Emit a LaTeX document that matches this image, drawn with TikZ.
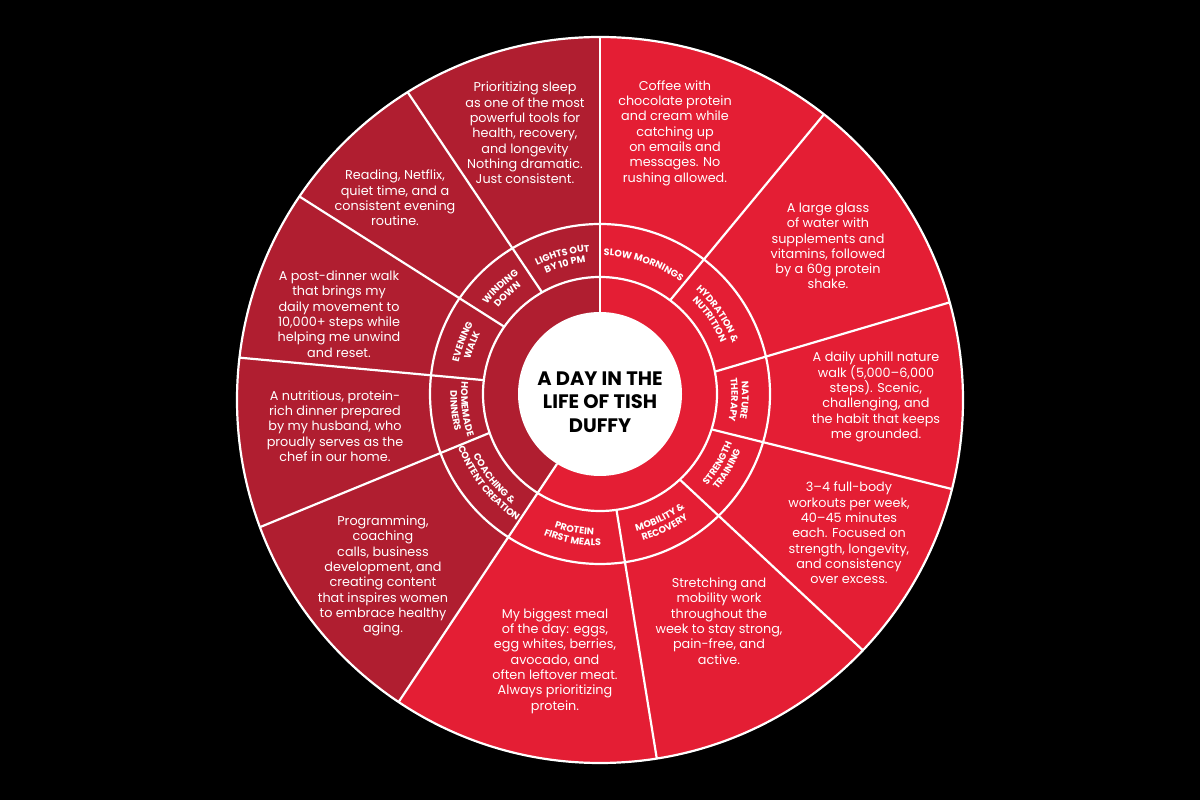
\documentclass[tikz,border=0pt]{standalone}
\usepackage{fontspec}
\setmainfont{Poppins}
\usetikzlibrary{calc,decorations.text}
\definecolor{brightred}{RGB}{228,30,52}
\definecolor{darkred}{RGB}{176,30,48}
\newcommand\labfont{\fontsize{9.5}{10}\selectfont\bfseries}
% label along arc, tops outward (clockwise path)
\newcommand\lblout[3]{%
  \path[decorate,decoration={text along path,text align=center,text={|\labfont\color{white}|#3}}]
    ($(Ci)+({#1+70}:#2)$) arc[start angle={#1+70}, end angle={#1-70}, radius=#2];}
% label along arc, tops inward (counter-clockwise path)
\newcommand\lblin[3]{%
  \path[decorate,decoration={text along path,text align=center,text={|\labfont\color{white}|#3}}]
    ($(Ci)+({#1-70}:#2)$) arc[start angle={#1-70}, end angle={#1+70}, radius=#2];}
\begin{document}
\begin{tikzpicture}[x=1pt,y=1pt,
  wline/.style={draw=white,line width=2.2pt},
  body/.style={text=white,align=center,font=\fontsize{12.8}{15.3}\selectfont}]
\useasboundingbox (0,0) rectangle (1200,800);
\fill[black] (0,0) rectangle (1200,800);
\coordinate (Ci) at (600,406);
\coordinate (Co) at (600,400);
\fill[brightred] (Co) circle[radius=363];
\coordinate (P7) at ($(Ci)+(238.4:82)$);
\coordinate (Q7) at ($(Co)+(236.3:363)$);
\begin{scope}
  \clip (Co) circle[radius=363];
  \fill[darkred] (Ci) -- (600,900) -- (-100,900) -- (-100,-200) -- ($(Q7)!-1!(P7)$) -- (Q7) -- (P7) -- cycle;
\end{scope}
\draw[wline] (Co) circle[radius=363];
\draw[wline] (Ci) circle[radius=170];
\draw[wline] (Ci) circle[radius=117];
\draw[wline] ($(Ci)+(90:82)$) -- ($(Co)+(90:363)$);
\draw[wline] (P7) -- (Q7);
\foreach \ai/\ao in {53.2/51.9, 11/15.6, -17.6/-14.2, -47/-43.6, -81.9/-81, 199.4/200.5, 173.2/173.3, 144.9/145.9, 119.7/122}
  \draw[wline] ($(Ci)+(\ai:117)$) -- ($(Co)+(\ao:363)$);
\fill[white] (Ci) circle[radius=82];

\node[font=\fontsize{19.5}{23.3}\selectfont\bfseries, align=center, text=black] (title) at (600,398) {A DAY IN THE\\LIFE OF TISH\\DUFFY};

% ring labels
\lblout{105.1}{142.8}{LIGHTS OUT}
\lblout{105.1}{132.1}{BY 10 PM}
\lblout{71.4}{138.3}{SLOW MORNINGS}
\lblout{34.3}{142}{HYDRATION {\&}}
\lblout{34.3}{131.3}{NUTRITION}
\lblout{-2.5}{142}{NATURE}
\lblout{-2.5}{131.3}{THERAPY}
\lblin{-30.5}{140.9}{STRENGTH}
\lblin{-30.5}{151.6}{TRAINING}
\lblin{-64.2}{142}{MOBILITY {\&}}
\lblin{-64.2}{152.7}{RECOVERY}
\lblin{259.3}{141.3}{PROTEIN}
\lblin{259.3}{152}{FIRST MEALS}
\lblin{218.6}{140.9}{COACHING {\&}}
\lblin{218.6}{151.6}{CONTENT CREATION}
\lblin{186.5}{138.9}{HOMEMADE}
\lblin{186.5}{149.6}{DINNERS}
\lblout{159.2}{144.8}{EVENING}
\lblout{159.2}{134.1}{WALK}
\lblout{132.9}{144.2}{WINDING}
\lblout{132.9}{133.5}{DOWN}

% segment texts
\node[body] (t1) at (525,667) {Prioritizing sleep\\as one of the most\\powerful tools for\\health, recovery,\\and longevity\\Nothing dramatic.\\Just consistent.};
\node[body] (t2) at (675,667) {Coffee with\\chocolate protein\\and cream while\\catching up\\on emails and\\messages. No\\rushing allowed.};
\node[body] (t3) at (828,554) {A large glass\\of water with\\supplements and\\vitamins, followed\\by a 60g protein\\shake.};
\node[body] (t4) at (876,403) {A daily uphill nature\\walk (5,000–6,000\\steps). Scenic,\\challenging, and\\the habit that keeps\\me grounded.};
\node[body] (t5) at (849,267) {3–4 full-body\\workouts per week,\\40–45 minutes\\each. Focused on\\strength, longevity,\\and consistency\\over excess.};
\node[body] (t6) at (719,179) {Stretching and\\mobility work\\throughout the\\week to stay strong,\\pain-free, and\\active.};
\node[body] (t7) at (555,139) {My biggest meal\\of the day: eggs,\\egg whites, berries,\\avocado, and\\often leftover meat.\\Always prioritizing\\protein.};
\node[body] (t8) at (383,224) {Programming,\\coaching\\calls, business\\development, and\\creating content\\that inspires women\\to embrace healthy\\aging.};
\node[body] (t9) at (335,374) {A nutritious, protein-\\rich dinner prepared\\by my husband, who\\proudly serves as the\\chef in our home.};
\node[body] (t10) at (339,486) {A post-dinner walk\\that brings my\\daily movement to\\10,000+ steps while\\helping me unwind\\and reset.};
\node[body] (t11) at (395,602) {Reading, Netflix,\\quiet time, and a\\consistent evening\\routine.};
\end{tikzpicture}
\end{document}
